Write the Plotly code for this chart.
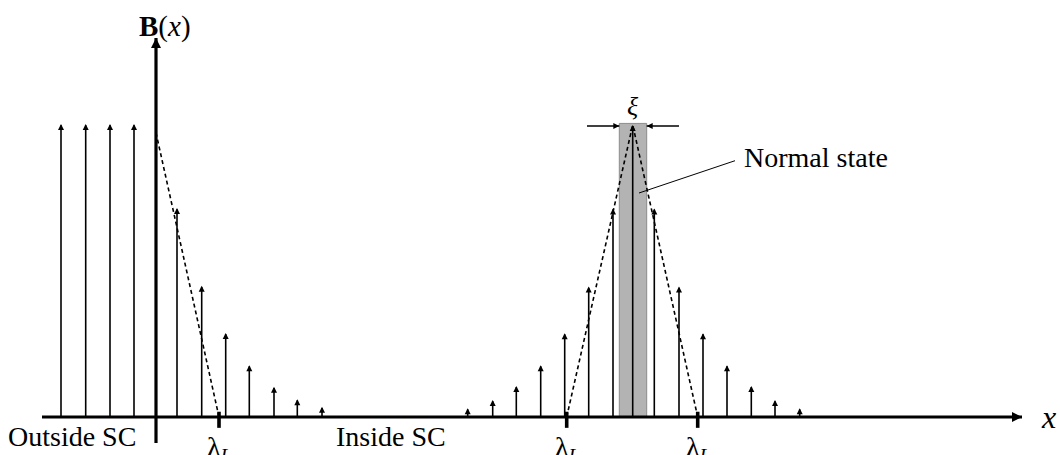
import plotly.graph_objects as go

# ---- data (x: horizontal position, origin at the surface; B: field, normalised to outside field) ----
outside_x = [-95, -70.3, -46, -22]
outside_B = [1.0, 1.0, 1.0, 1.0]

inside_x = [21, 45.7, 69.7, 93.3, 118, 141.3, 166]
inside_B = [0.713, 0.448, 0.287, 0.177, 0.103, 0.061, 0.035]

vortex_x = [311.7, 336.7, 360.3, 384.7, 408.7, 432.7, 457, 476.7,
            498.3, 523, 547, 571, 595.3, 619, 643.7]
vortex_B = [0.03, 0.058, 0.106, 0.177, 0.286, 0.445, 0.712, 0.997,
            0.712, 0.445, 0.286, 0.177, 0.106, 0.058, 0.03]

surface_decay_x = [0, 63]
surface_decay_B = [0.97, 0.0]
vortex_decay_x = [410.7, 476.7, 541.7]
vortex_decay_B = [0.0, 0.997, 0.0]

lambda_x = [63, 410.7, 541.7]
core_x = [463.3, 490.7]          # normal-state core edges (width xi)
core_top = 1.002
xi_arrow_x = [[431, 463.3], [523, 490.7]]
xi_y = 0.993

x_axis = [-114, 866]
y_axis = [-0.0887, 1.2935]

X_RANGE = [-156, 904]
Y_RANGE = [-38 / 293, 417 / 293]

FONT = "Liberation Serif"

fig = go.Figure()


def stems(xs, bs):
    xx, yy = [], []
    for x, b in zip(xs, bs):
        xx += [x, x, None]
        yy += [0, b - 0.004, None]
    return xx, yy


all_x = outside_x + inside_x + vortex_x
all_B = outside_B + inside_B + vortex_B
sx, sy = stems(all_x, all_B)

# gray normal core
fig.add_shape(type="rect", x0=core_x[0], x1=core_x[1], y0=0, y1=core_top,
              xref="x", yref="y", layer="below",
              fillcolor="#b3b3b3", line=dict(color="#8c8c8c", width=1))

# field arrows: shafts
fig.add_trace(go.Scatter(x=sx, y=sy, mode="lines",
                         line=dict(color="black", width=1.6),
                         hoverinfo="skip"))
# field arrows: heads
fig.add_trace(go.Scatter(x=all_x, y=all_B, mode="markers",
                         marker=dict(symbol="arrow-up", size=6, color="black",
                                     line=dict(width=0)),
                         hoverinfo="skip"))

# dashed envelopes
fig.add_trace(go.Scatter(x=surface_decay_x, y=surface_decay_B, mode="lines",
                         line=dict(color="black", width=1.6, dash="4px,3px"),
                         hoverinfo="skip"))
fig.add_trace(go.Scatter(x=vortex_decay_x, y=vortex_decay_B, mode="lines",
                         line=dict(color="black", width=1.6, dash="4px,3px"),
                         hoverinfo="skip"))

# axes
fig.add_trace(go.Scatter(x=x_axis, y=[0, 0], mode="lines",
                         line=dict(color="black", width=3.2), hoverinfo="skip"))
fig.add_trace(go.Scatter(x=[0, 0], y=y_axis, mode="lines",
                         line=dict(color="black", width=3.2), hoverinfo="skip"))
fig.add_trace(go.Scatter(x=[x_axis[1]], y=[0], mode="markers",
                         marker=dict(symbol="arrow-right", size=10, color="black",
                                     line=dict(width=0)),
                         hoverinfo="skip"))
fig.add_trace(go.Scatter(x=[0], y=[y_axis[1]], mode="markers",
                         marker=dict(symbol="arrow-up", size=10, color="black",
                                     line=dict(width=0)),
                         hoverinfo="skip"))

# lambda_L ticks
tx, ty = [], []
for x in lambda_x:
    tx += [x, x, None]
    ty += [0.018, -0.037, None]
fig.add_trace(go.Scatter(x=tx, y=ty, mode="lines",
                         line=dict(color="black", width=3.6), hoverinfo="skip"))

# xi arrows
for (x0, x1), sym in zip(xi_arrow_x, ["arrow-right", "arrow-left"]):
    fig.add_trace(go.Scatter(x=[x0, x1], y=[xi_y, xi_y], mode="lines",
                             line=dict(color="black", width=1.5), hoverinfo="skip"))
    fig.add_trace(go.Scatter(x=[x1], y=[xi_y], mode="markers",
                             marker=dict(symbol=sym, size=6, color="black",
                                         line=dict(width=0)),
                             hoverinfo="skip"))

# leader line to "Normal state"
fig.add_trace(go.Scatter(x=[483, 579], y=[0.7645, 0.8747], mode="lines",
                         line=dict(color="black", width=1), hoverinfo="skip"))

# ---- text ----
def label(text, x, y, size=22, xanchor="center", yanchor="middle"):
    fig.add_annotation(text=text, x=x, y=y, xref="x", yref="y", showarrow=False,
                       xanchor=xanchor, yanchor=yanchor,
                       font=dict(family=FONT, size=size, color="black"))


label("<b>B</b>(<i>x</i>)", 9, 1.334, size=29)
label("<i>x</i>", 892, 0.0, size=32)
label("Outside SC", -84, -0.068, size=28)
label("Inside SC", 235, -0.068, size=28)
for x in lambda_x:
    label("λ<sub><i>L</i></sub>", x, -0.04, size=28, yanchor="top")
label("<i>ξ</i>", 477, 1.06, size=26)
label("Normal state", 585.7, 0.887, size=28, xanchor="left")

fig.update_layout(
    width=1060, height=455, autosize=False,
    margin=dict(l=0, r=0, t=0, b=0),
    paper_bgcolor="white", plot_bgcolor="white",
    showlegend=False, hovermode=False,
    xaxis=dict(range=X_RANGE, visible=False, fixedrange=True),
    yaxis=dict(range=Y_RANGE, visible=False, fixedrange=True),
)

fig.write_html("out.html", config={"displayModeBar": False, "staticPlot": True},
               post_script="document.body.style.margin='0';document.body.style.overflow='hidden';")
